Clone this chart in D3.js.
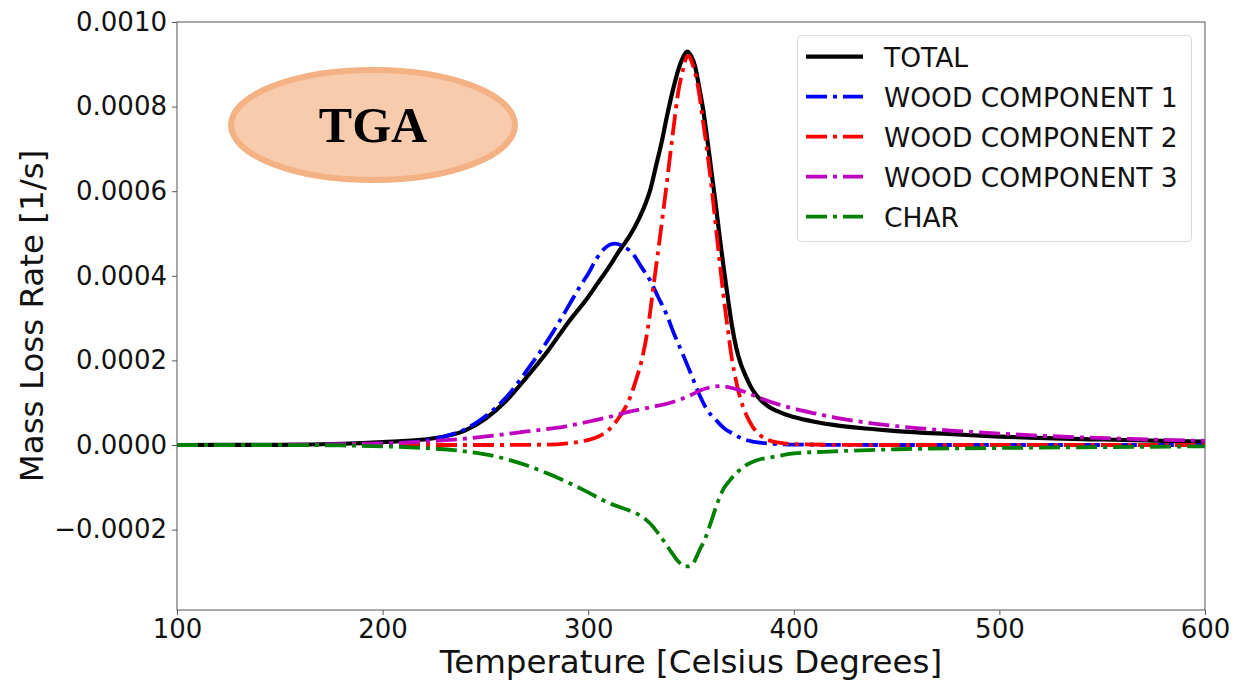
<!DOCTYPE html>
<html>
<head>
<meta charset="utf-8">
<script src="https://cdn.jsdelivr.net/npm/d3@7"></script>
<style>
  html, body { margin: 0; padding: 0; background: #fff; }
  svg { display: block; font-family: "DejaVu Sans", sans-serif; }
</style>
</head>
<body>
<svg id="chart" width="1243" height="680"></svg>
<script>
// ---------- DATA ----------
const seriesNames = ["TOTAL", "WOOD COMPONENT 1", "WOOD COMPONENT 2", "WOOD COMPONENT 3", "CHAR"];
const seriesColors = ["#000000", "#0000ff", "#ff0000", "#bf00bf", "#008000"];

const totalT = [100,150,180,200,220,230,240,250,260,270,280,290,300,305,310,315,317,320,325,328,330,333,336,338,341,344,346,348,350,352,354,356,358,360,362,364,366,368,370,372,374,376,378,380,384,388,392,396,400,410,420,435,450,475,500,550,600];
const totalV = [0,0.0000005,0.000003,0.000007,0.000013,0.00002,0.000034,0.000062,0.000104,0.00016,0.00022,0.000288,0.00035,0.000385,0.00042,0.000458,0.000472,0.000493,0.000538,0.000572,0.0006,0.00066,0.000722,0.00077,0.000835,0.00089,0.000915,0.00093,0.00092,0.000895,0.000845,0.00079,0.00072,0.000645,0.00057,0.00049,0.000415,0.000345,0.00028,0.00023,0.000195,0.00017,0.000148,0.00013,0.000106,0.00009,0.00008,0.000072,0.000066,0.000055,0.000047,0.000039,0.000033,0.000026,0.00002,0.000013,0.000008];

const wc1T = [100,150,180,200,220,230,240,250,260,270,280,290,296,300,304,308,313,317,320,322,326,330,334,338,342,346,350,354,358,362,366,370,375,380,390,400,450,600];
const wc1V = [0,0.0000003,0.000001,0.000003,0.00001,0.00002,0.000037,0.000068,0.000112,0.000175,0.000245,0.000325,0.000375,0.000405,0.00044,0.000465,0.000476,0.00047,0.00046,0.00045,0.00042,0.00039,0.00035,0.00031,0.00026,0.000215,0.000168,0.00012,0.000082,0.00006,0.00004,0.000028,0.000015,0.000008,0.000003,0.000001,0,0];

const wc2T = [100,250,280,290,295,300,305,310,315,320,323,326,329,332,335,338,341,344,346,348,349,350,352,354,356,358,360,362,364,366,368,370,372,374,376,378,380,383,386,390,395,400,420,450,600];
const wc2V = [0,0,0.000001,0.000004,0.000007,0.000012,0.00002,0.000036,0.000065,0.000108,0.00015,0.0002,0.000275,0.000385,0.000495,0.00061,0.00073,0.00084,0.000885,0.000918,0.00092,0.00091,0.00088,0.00083,0.00076,0.00069,0.00061,0.00052,0.00043,0.000345,0.00027,0.0002,0.00015,0.00011,0.000082,0.00006,0.000043,0.000026,0.000015,0.000008,0.000004,0.000002,0.0000005,0,0];

const wc3T = [100,150,180,200,220,240,255,270,285,300,310,320,330,340,345,350,355,360,364,368,372,376,380,390,400,410,420,440,460,480,500,520,540,560,580,600];
const wc3V = [0,0.0000005,0.000002,0.000004,0.000008,0.000015,0.000023,0.000032,0.000041,0.000055,0.000066,0.000079,0.000089,0.0001,0.000108,0.000118,0.00013,0.000137,0.000139,0.000137,0.000132,0.000126,0.000118,0.0001,0.000086,0.000075,0.000065,0.00005,0.00004,0.000033,0.000027,0.000022,0.000018,0.000015,0.000012,0.00001];

const charT = [100,150,180,200,220,240,250,260,270,280,290,300,310,320,325,330,335,340,344,347,349,351,354,357,360,363,366,369,373,377,382,390,400,420,450,500,550,600];
const charV = [0,0,-0.000001,-0.000003,-0.000007,-0.000015,-0.000022,-0.000033,-0.000048,-0.000067,-0.000088,-0.000112,-0.000137,-0.000155,-0.000166,-0.000185,-0.000215,-0.00025,-0.000276,-0.000287,-0.000287,-0.00028,-0.00025,-0.00022,-0.000178,-0.000135,-0.000102,-0.000083,-0.000062,-0.000047,-0.000036,-0.000028,-0.00002,-0.000015,-0.00001,-0.000007,-0.000005,-0.000003];

const xTicks = [100, 200, 300, 400, 500, 600];
const yTicks = [-0.0002, 0.0000, 0.0002, 0.0004, 0.0006, 0.0008, 0.0010];
const xLabel = "Temperature [Celsius Degrees]";
const yLabel = "Mass Loss Rate [1/s]";
const badgeText = "TGA";

// ---------- LAYOUT ----------
const svg = d3.select("#chart");
const plot = { left: 177, right: 1205, top: 22, bottom: 610 };

const x = d3.scaleLinear().domain([100, 600]).range([plot.left, plot.right]);
const y = d3.scaleLinear().domain([-0.00039, 0.0010]).range([plot.bottom, plot.top]);

const seriesT = [totalT, wc1T, wc2T, wc3T, charT];
const seriesV = [totalV, wc1V, wc2V, wc3V, charV];

// clip
svg.append("defs").append("clipPath").attr("id", "clip")
  .append("rect").attr("x", plot.left).attr("y", plot.top)
  .attr("width", plot.right - plot.left).attr("height", plot.bottom - plot.top);

// lines
const line = d3.line()
  .x(d => x(d[0])).y(d => y(d[1]))
  .curve(d3.curveMonotoneX);

const dash = "21,6,4,6";
const gLines = svg.append("g").attr("clip-path", "url(#clip)");
seriesNames.forEach((name, i) => {
  const pts = seriesT[i].map((t, j) => [t, seriesV[i][j]]);
  gLines.append("path")
    .datum(pts)
    .attr("d", line)
    .attr("fill", "none")
    .attr("stroke", seriesColors[i])
    .attr("stroke-width", i === 0 ? 4.2 : 3.8)
    .attr("stroke-dasharray", i === 0 ? null : dash)
    .attr("stroke-linejoin", "round");
});

// frame
svg.append("rect")
  .attr("x", plot.left).attr("y", plot.top)
  .attr("width", plot.right - plot.left).attr("height", plot.bottom - plot.top)
  .attr("fill", "none").attr("stroke", "#555").attr("stroke-width", 1);

// axes
const fmt = d => (d < 0 ? "\u2212" : "") + Math.abs(d).toFixed(4);
const xAxis = d3.axisBottom(x).tickValues(xTicks).tickSize(5).tickPadding(5).tickFormat(d3.format("d"));
const yAxis = d3.axisLeft(y).tickValues(yTicks).tickSize(5).tickPadding(5).tickFormat(fmt);

const gx = svg.append("g").attr("transform", `translate(0,${plot.bottom})`).call(xAxis);
const gy = svg.append("g").attr("transform", `translate(${plot.left},0)`).call(yAxis);
[gx, gy].forEach(g => {
  g.select(".domain").remove();
  g.selectAll(".tick line").attr("stroke", "#555").attr("stroke-width", 1);
  g.selectAll(".tick text").attr("fill", "#111")
    .style("font-family", "DejaVu Sans, sans-serif").style("font-size", "26px");
});
gx.selectAll(".tick text").attr("dy", "0.71em");

// axis labels
svg.append("text")
  .attr("x", (plot.left + plot.right) / 2).attr("y", 673)
  .attr("text-anchor", "middle")
  .style("font-size", "32.5px").attr("fill", "#111")
  .text(xLabel);
svg.append("text")
  .attr("transform", `translate(43,${(plot.top + plot.bottom) / 2}) rotate(-90)`)
  .attr("text-anchor", "middle")
  .style("font-size", "32.5px").attr("fill", "#111")
  .text(yLabel);

// TGA badge
svg.append("ellipse")
  .attr("cx", 373).attr("cy", 125).attr("rx", 142).attr("ry", 55)
  .attr("fill", "#f8cbad").attr("stroke", "#f4b183").attr("stroke-width", 6);
svg.append("text")
  .attr("x", 373).attr("y", 142)
  .attr("text-anchor", "middle")
  .style("font-family", "Liberation Serif, serif").style("font-weight", "bold").style("font-size", "50px")
  .attr("fill", "#000")
  .text(badgeText);

// legend
const lg = svg.append("g");
lg.append("rect")
  .attr("x", 797.5).attr("y", 35.5).attr("width", 394).attr("height", 206)
  .attr("rx", 4).attr("fill", "#fff").attr("fill-opacity", 0.85)
  .attr("stroke", "#d9d9d9").attr("stroke-width", 1);
seriesNames.forEach((name, i) => {
  const cy = 56.7 + i * 40;
  lg.append("line")
    .attr("x1", 806).attr("x2", 863).attr("y1", cy).attr("y2", cy)
    .attr("stroke", seriesColors[i])
    .attr("stroke-width", i === 0 ? 4.2 : 3.8)
    .attr("stroke-dasharray", i === 0 ? null : dash);
  lg.append("text")
    .attr("x", 884).attr("y", cy + 10)
    .style("font-size", "26.5px").attr("fill", "#111")
    .text(name);
});
</script>
</body>
</html>
